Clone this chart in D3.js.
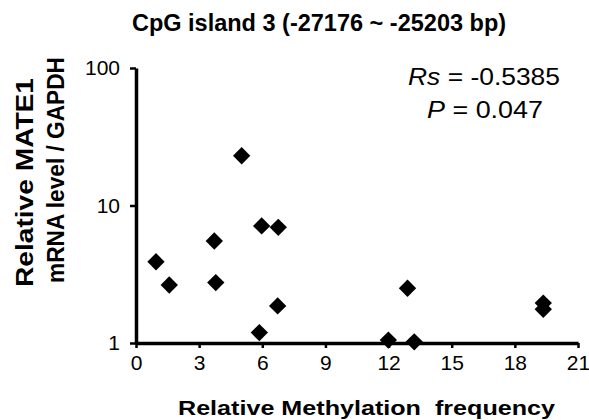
<!DOCTYPE html>
<html>
<head>
<meta charset="utf-8">
<script src="https://cdn.jsdelivr.net/npm/d3@7"></script>
<style>
body { margin: 0; background: #fff; }
text { font-family: "Liberation Sans", Arial, sans-serif; fill: #000; }
</style>
</head>
<body>
<div id="chart"></div>
<script>
// scatter of methylation vs MATE1 expression, log y

var methylation = [0.95, 1.58, 3.72, 3.79, 5.97, 6.76, 6.73, 5.86, 5.02, 12.9, 19.35, 19.35, 11.99, 13.22];
var mrnaLevel   = [3.9, 2.64, 5.52, 2.75, 7.1, 6.94, 1.86, 1.19, 23.0, 2.5, 1.95, 1.76, 1.05, 1.02];
var xTicks = [0, 3, 6, 9, 12, 15, 18, 21];
var yTicks = [1, 10, 100];

var width = 589, height = 420;

var svg = d3.select("#chart").append("svg")
	.attr("width", width)
	.attr("height", height);

var x = d3.scaleLinear().domain([0, 21]).range([136, 578]);
var y = d3.scaleLog().domain([1, 100]).range([343, 68]);

// axes
var xAxis = svg.append("g")
	.attr("transform", "translate(0," + y(1) + ")")
	.call(d3.axisBottom(x).tickValues(xTicks).tickSize(5).tickPadding(7).tickSizeOuter(0));

var yAxis = svg.append("g")
	.attr("transform", "translate(" + x(0) + ",0)")
	.call(d3.axisLeft(y).tickValues(yTicks).tickFormat(d3.format("d")).tickSize(6).tickPadding(10).tickSizeOuter(0));

[xAxis, yAxis].forEach(function(a) {
	a.attr("font-size", 21).attr("font-family", "Liberation Sans, Arial, sans-serif");
	a.select(".domain").attr("stroke", "#000").attr("stroke-width", 3.5);
	a.selectAll(".tick line").attr("stroke", "#000").attr("stroke-width", 2.5);
	a.selectAll(".tick text").attr("fill", "#000");
});

// points
svg.append("g")
	.selectAll("path")
	.data(methylation)
	.enter().append("path")
	.attr("d", d3.symbol().type(d3.symbolSquare).size(150))
	.attr("transform", function(d, i) {
		return "translate(" + x(d) + "," + y(mrnaLevel[i]) + ") rotate(45)";
	})
	.attr("fill", "#000");

// title
svg.append("text")
	.attr("x", 319)
	.attr("y", 31)
	.attr("text-anchor", "middle")
	.style("font-size", "23.5px")
	.style("font-weight", "bold")
	.text("CpG island 3 (-27176 ~ -25203 bp)");

// x label
svg.append("text")
	.attr("x", 178)
	.attr("y", 415)
	.attr("textLength", 377)
	.attr("lengthAdjust", "spacingAndGlyphs")
	.style("font-size", "20px")
	.style("font-weight", "bold")
	.style("white-space", "pre")
	.text("Relative Methylation  frequency");

// y label, two lines
svg.append("text")
	.attr("transform", "translate(33,287) rotate(-90)")
	.attr("textLength", 209)
	.attr("lengthAdjust", "spacingAndGlyphs")
	.style("font-size", "24px")
	.style("font-weight", "bold")
	.text("Relative MATE1");

svg.append("text")
	.attr("transform", "translate(64,283) rotate(-90)")
	.attr("textLength", 226)
	.attr("lengthAdjust", "spacingAndGlyphs")
	.style("font-size", "23px")
	.style("font-weight", "bold")
	.text("mRNA level / GAPDH");

// stats
var rs = svg.append("text")
	.attr("x", 408)
	.attr("y", 85)
	.attr("textLength", 152)
	.attr("lengthAdjust", "spacingAndGlyphs")
	.style("font-size", "23px");
rs.append("tspan").style("font-style", "italic").text("Rs");
rs.append("tspan").text(" = -0.5385");

var p = svg.append("text")
	.attr("x", 427)
	.attr("y", 118)
	.attr("textLength", 116)
	.attr("lengthAdjust", "spacingAndGlyphs")
	.style("font-size", "23px");
p.append("tspan").style("font-style", "italic").text("P");
p.append("tspan").text(" = 0.047");
</script>
</body>
</html>
